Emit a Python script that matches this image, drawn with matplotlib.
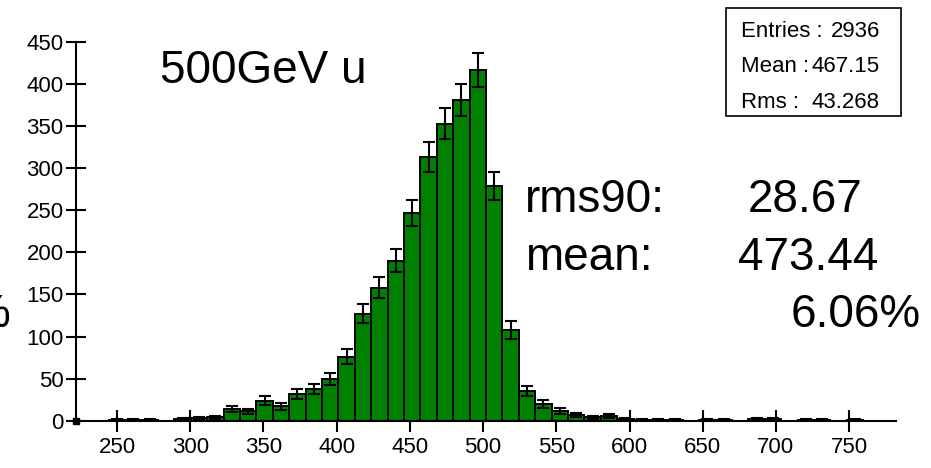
import numpy as np
import matplotlib
matplotlib.use("Agg")
import matplotlib.pyplot as plt

plt.rcParams['font.family'] = ['Liberation Sans', 'DejaVu Sans']

# histogram: 50 bins from 222 to 782
bin_lo, bin_hi, n_bins = 222.0, 782.0, 50
counts = [0, 0, 1, 1, 1, 0, 2, 3, 4, 14,
          11, 24, 17, 32, 38, 50, 76, 127, 158, 190,
          247, 313, 353, 381, 417, 279, 108, 35, 20, 12,
          7, 4, 6, 2, 1, 1, 1, 0, 1, 1,
          0, 2, 2, 0, 1, 1, 0, 1, 0, 0]

x_ticks = [250, 300, 350, 400, 450, 500, 550, 600, 650, 700, 750]
y_ticks = [0, 50, 100, 150, 200, 250, 300, 350, 400, 450]

title = "500GeV u"
stat_labels = ["Entries :", "Mean :", "Rms :"]
stat_values = ["2936", "467.15", "43.268"]
res_labels = ["rms90:", "mean:"]
res_values = ["28.67", "473.44"]
res_percent = "6.06%"

W, H = 931, 468
fig = plt.figure(figsize=(W / 100, H / 100), dpi=100)
ax = fig.add_axes([76 / W, 1 - 420.7 / H, (896 - 76) / W, (420.7 - 42) / H])

edges = np.linspace(bin_lo, bin_hi, n_bins + 1)
counts = np.array(counts, dtype=float)
centers = 0.5 * (edges[:-1] + edges[1:])
width = edges[1] - edges[0]

ax.bar(edges[:-1], counts, width=width, align='edge', color='#008000',
       edgecolor='black', linewidth=1.4, zorder=2)
nz = counts > 0
ax.errorbar(centers[nz], counts[nz], yerr=np.sqrt(counts[nz]), fmt='none',
            ecolor='black', elinewidth=1.5, capsize=4.5, capthick=1.5, zorder=3)

ax.set_xlim(bin_lo, bin_hi)
ax.set_ylim(0, 450)
ax.set_xticks(x_ticks)
ax.set_yticks(y_ticks)
for s in ['top', 'right']:
    ax.spines[s].set_visible(False)
for s in ['left', 'bottom']:
    ax.spines[s].set_linewidth(1.5)
    ax.spines[s].set_zorder(4)
ax.tick_params(axis='x', direction='inout', length=16, width=1.5, pad=4, labelsize=16)
ax.tick_params(axis='y', direction='inout', length=14, width=1.5, pad=2, labelsize=16)
ax.plot([bin_lo], [0], marker='s', color='black', markersize=4, clip_on=False, zorder=5)

# big labels
fig.text(160 / W, 1 - 83 / H, title, fontsize=33, va='baseline', ha='left')
fig.text(525 / W, 1 - 211.7 / H, res_labels[0], fontsize=33, va='baseline', ha='left')
fig.text(863 / W, 1 - 211.7 / H, res_values[0], fontsize=33, va='baseline', ha='right')
fig.text(525 / W, 1 - 270 / H, res_labels[1], fontsize=33, va='baseline', ha='left')
fig.text(878 / W, 1 - 270 / H, res_values[1], fontsize=33, va='baseline', ha='right')
fig.text(921 / W, 1 - 326.7 / H, res_percent, fontsize=33, va='baseline', ha='right')
# clipped "%" from the neighbouring pad (cut off in the reference too)
fig.text(10 / W, 1 - 326.7 / H, "%", fontsize=33, va='baseline', ha='right')

# stats box
box = plt.Rectangle((726 / W, 1 - 116 / H), (900.7 - 726) / W, (116 - 8.3) / H,
                    transform=fig.transFigure, fill=False, edgecolor='black', linewidth=1.2)
fig.add_artist(box)
for i, (lab, val) in enumerate(zip(stat_labels, stat_values)):
    yb = 1 - (36.7 + 35.6 * i) / H
    fig.text(740.7 / W, yb, lab, fontsize=16, va='baseline', ha='left')
    fig.text(880 / W, yb, val, fontsize=16, va='baseline', ha='right')

fig.savefig("out.png", dpi=100)
